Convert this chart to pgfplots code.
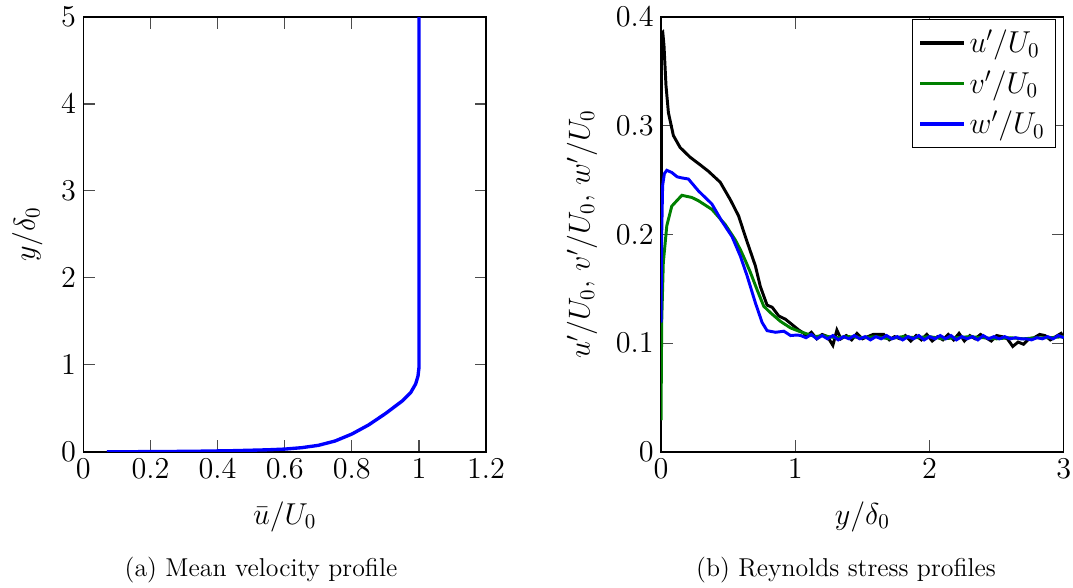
\documentclass[border=0pt]{standalone}
\usepackage{pgfplots}
\pgfplotsset{compat=1.18}
\begin{document}
\begin{tikzpicture}
\useasboundingbox (0,0) rectangle (511pt,-280pt);
\pgfplotsset{
  every axis/.append style={
    scale only axis, width=191.8pt, height=207.1pt,
    axis line style={line width=0.6pt},
    major tick length=5.5pt,
    every tick/.style={line width=0.5pt, black!70},
    tick label style={font=\fontsize{13.7}{16}\selectfont},
    label style={font=\fontsize{13.7}{16}\selectfont},
    xlabel style={yshift=-4pt},
    legend style={font=\fontsize{13.7}{16}\selectfont, row sep=3pt,
      inner sep=3pt},
    legend image code/.code={\draw[#1, line width=1.6pt] (0cm,0cm) -- (0.73cm,0cm);},
  },
}
% (a) mean velocity
\begin{axis}[at={(39.7pt,-215.2pt)}, anchor=south west,
  xmin=0, xmax=1.2, ymin=0, ymax=5,
  xtick={0,0.2,0.4,0.6,0.8,1,1.2}, ytick={0,1,2,3,4,5},
  xlabel={$\bar{u}/U_0$}, ylabel={$y/\delta_0$},
  ylabel style={yshift=2pt}]
\addplot[blue, line width=1.6pt] coordinates {
  (0.07,0.0)(0.15,0.002)(0.25,0.004)(0.35,0.008)(0.45,0.014)(0.55,0.024)
  (0.6,0.032)(0.65,0.048)(0.7,0.075)(0.75,0.125)(0.8,0.205)(0.85,0.31)
  (0.9,0.44)(0.95,0.585)(0.975,0.68)(0.99,0.78)(0.997,0.87)(1.0,0.97)(1.0,5.0)
};
\end{axis}
% (b) Reynolds stresses
\begin{axis}[at={(314.8pt,-215.2pt)}, anchor=south west,
  xmin=0, xmax=3, ymin=0, ymax=0.4,
  xtick={0,1,2,3}, ytick={0,0.1,0.2,0.3,0.4},
  xlabel={$y/\delta_0$}, ylabel={$u'/U_0$, $v'/U_0$, $w'/U_0$},
  ylabel style={yshift=2pt},
  legend style={at={(0.98,0.995)}, anchor=north east}, legend cell align=left]
\addplot[black, line width=1.4pt] coordinates {
  (0,0.12)(0.004,0.385)(0.013,0.386)(0.022,0.374)(0.037,0.337)(0.055,0.312)
  (0.092,0.291)(0.142,0.280)(0.217,0.271)(0.292,0.264)(0.354,0.258)(0.441,0.248)
  (0.516,0.232)(0.578,0.217)(0.628,0.198)(0.653,0.189)(0.703,0.171)(0.740,0.152)
  (0.790,0.135)(0.828,0.133)(0.877,0.125)(0.927,0.122)(0.977,0.117)(1.027,0.112)
  (1.065,0.109)
  (1.08,0.106)(1.12,0.110)(1.16,0.104)(1.20,0.108)(1.24,0.106)(1.28,0.098)
  (1.31,0.112)(1.34,0.104)(1.38,0.107)(1.42,0.103)(1.46,0.109)(1.50,0.104)
  (1.54,0.106)(1.58,0.108)(1.62,0.108)(1.66,0.108)(1.70,0.103)(1.74,0.106)
  (1.78,0.104)(1.82,0.107)(1.86,0.102)(1.90,0.107)(1.94,0.103)(1.98,0.108)
  (2.02,0.102)(2.06,0.106)(2.10,0.103)(2.14,0.108)(2.18,0.103)(2.22,0.109)
  (2.26,0.102)(2.30,0.107)(2.34,0.104)(2.38,0.108)(2.42,0.105)(2.46,0.102)
  (2.50,0.107)(2.54,0.106)(2.58,0.104)(2.62,0.097)(2.66,0.101)(2.70,0.099)
  (2.74,0.104)(2.78,0.105)(2.82,0.108)(2.86,0.107)(2.90,0.103)(2.94,0.106)
  (2.98,0.109)(3.00,0.105)
};
\addlegendentry{$u'/U_0$}
\addplot[green!50!black, line width=1.4pt] coordinates {
  (0,0.029)(0.005,0.119)(0.017,0.174)(0.043,0.208)(0.08,0.226)(0.155,0.236)
  (0.23,0.234)(0.279,0.231)(0.379,0.223)(0.479,0.209)(0.553,0.195)(0.591,0.186)
  (0.628,0.176)(0.666,0.165)(0.716,0.149)(0.765,0.134)(0.815,0.128)(0.890,0.120)
  (0.965,0.114)(1.027,0.111)(1.1,0.108)
  (1.15,0.106)(1.2,0.107)(1.3,0.105)(1.4,0.106)(1.5,0.105)(1.6,0.106)(1.7,0.104)
  (1.8,0.106)(1.9,0.105)(2.0,0.106)(2.1,0.104)(2.2,0.105)(2.3,0.106)(2.4,0.105)
  (2.5,0.104)(2.6,0.105)(2.7,0.104)(2.8,0.105)(2.9,0.105)(3.0,0.106)
};
\addlegendentry{$v'/U_0$}
\addplot[blue, line width=1.4pt] coordinates {
  (0,0.119)(0.005,0.2)(0.012,0.245)(0.025,0.256)(0.043,0.259)(0.08,0.257)
  (0.12,0.253)(0.155,0.252)(0.204,0.251)(0.279,0.240)(0.379,0.228)(0.454,0.212)
  (0.529,0.198)(0.591,0.180)(0.641,0.162)(0.703,0.137)(0.753,0.119)(0.790,0.1115)
  (0.853,0.110)(0.915,0.111)(0.965,0.107)(1.015,0.1075)
  (1.04,0.107)(1.08,0.105)(1.12,0.108)(1.16,0.104)(1.20,0.107)(1.24,0.104)
  (1.28,0.107)(1.32,0.103)(1.36,0.106)(1.40,0.104)(1.44,0.107)(1.48,0.104)
  (1.52,0.106)(1.56,0.103)(1.60,0.106)(1.64,0.104)(1.68,0.107)(1.72,0.104)
  (1.76,0.106)(1.80,0.103)(1.84,0.106)(1.88,0.104)(1.92,0.107)(1.96,0.103)
  (2.00,0.106)(2.04,0.104)(2.08,0.107)(2.12,0.104)(2.16,0.107)(2.20,0.103)
  (2.24,0.106)(2.28,0.104)(2.32,0.106)(2.36,0.103)(2.40,0.107)(2.44,0.104)
  (2.48,0.106)(2.52,0.104)(2.56,0.106)(2.60,0.104)(2.64,0.105)(2.68,0.104)
  (2.72,0.104)(2.76,0.103)(2.80,0.105)(2.84,0.104)(2.88,0.106)(2.92,0.104)
  (2.96,0.107)(3.00,0.105)
};
\addlegendentry{$w'/U_0$}
\end{axis}
\node[anchor=base, font=\fontsize{12.3}{15}\selectfont] at (124.3pt,-274.6pt) {(a) Mean velocity profile};
\node[anchor=base, font=\fontsize{12.3}{15}\selectfont] at (402.9pt,-274.6pt) {(b) Reynolds stress profiles};
\end{tikzpicture}
\end{document}
